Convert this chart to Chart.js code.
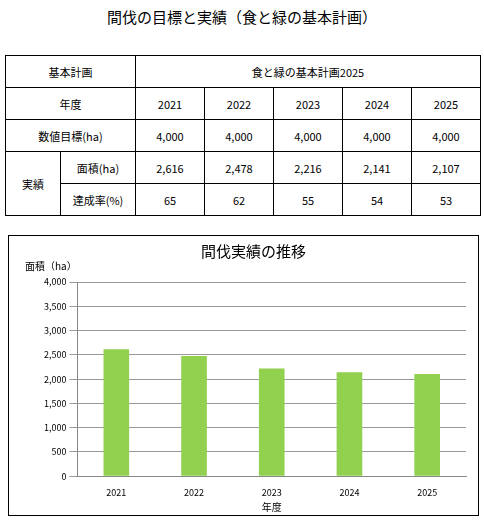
<!DOCTYPE html>
<html><head><meta charset="utf-8">
<script src="https://cdn.jsdelivr.net/npm/chart.js@4"></script>
<style>
body{margin:0;width:484px;height:523px;background:#fff;font-family:"Noto Sans CJK JP",sans-serif;position:relative;overflow:hidden}
#title{position:absolute;top:6px;left:0;width:484px;text-align:center;font-size:15px}
table{position:absolute;left:5px;top:55px;border-collapse:collapse;font-size:11px}
td{border:1px solid #000;text-align:center;height:31px;padding:0}
#box{position:absolute;left:8px;top:235px;width:469px;height:279px;border:1px solid #000}
#ylab{position:absolute;left:25px;top:258px;font-size:10px}
</style></head><body>
<div id="title">間伐の目標と実績（食と緑の基本計画）</div>
<table id="t"></table>
<div id="box"><canvas id="c" width="469" height="279"></canvas></div>
<div id="ylab">面積（ha）</div>
<script>
const categories=["2021","2022","2023","2024","2025"];
const targets=[4000,4000,4000,4000,4000];
const areas=[2616,2478,2216,2141,2107];
const rates=[65,62,55,54,53];
const f=n=>n.toLocaleString('en-US');
let h='<tr><td colspan=2 style="width:129px">基本計画</td><td colspan=5>食と緑の基本計画2025</td></tr>';
h+='<tr><td colspan=2>年度</td>'+categories.map(c=>'<td style="width:68px">'+c+'</td>').join('')+'</tr>';
h+='<tr><td colspan=2>数値目標(ha)</td>'+targets.map(v=>'<td>'+f(v)+'</td>').join('')+'</tr>';
h+='<tr><td rowspan=2 style="width:54px">実績</td><td style="width:74px">面積(ha)</td>'+areas.map(v=>'<td>'+f(v)+'</td>').join('')+'</tr>';
h+='<tr><td>達成率(%)</td>'+rates.map(v=>'<td>'+v+'</td>').join('')+'</tr>';
document.getElementById('t').innerHTML=h;
Chart.defaults.font.family='"Noto Sans CJK JP",sans-serif';
Chart.defaults.color='#000';
new Chart(document.getElementById('c'),{type:'bar',
data:{labels:categories,datasets:[{data:areas,backgroundColor:'#92D050',categoryPercentage:0.55,barPercentage:0.6}]},
options:{responsive:false,animation:false,
layout:{padding:{left:32,right:12,top:0,bottom:2}},
plugins:{legend:{display:false},title:{display:true,text:'間伐実績の推移',font:{size:15,weight:'normal'},padding:{top:6,bottom:22}}},
scales:{y:{min:0,max:4000,ticks:{stepSize:500,font:{size:9},callback:v=>f(v)},grid:{color:'#999'},border:{display:true,color:'#888'}},
x:{grid:{display:false},border:{color:'#888'},ticks:{font:{size:9}},title:{display:true,text:'年度',font:{size:10},padding:0}}}}});
</script></body></html>
